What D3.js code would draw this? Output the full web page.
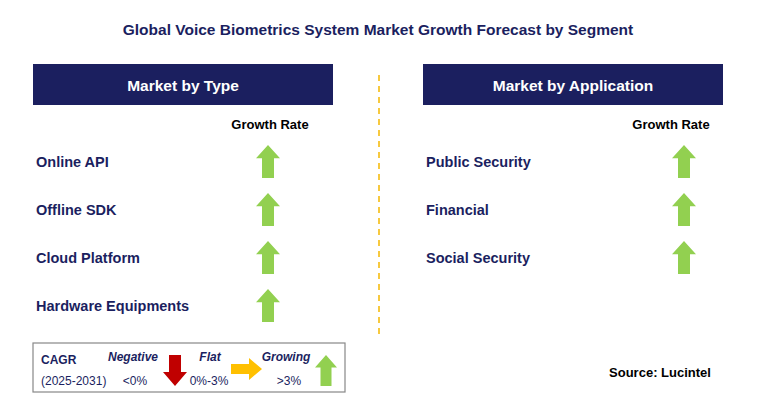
<!DOCTYPE html>
<html><head><meta charset="utf-8">
<script src="https://cdn.jsdelivr.net/npm/d3@7"></script>
<style>body{margin:0;background:#fff}text{font-family:Arial,"Liberation Sans",sans-serif}</style>
</head><body><svg id="c" width="757" height="417"></svg>
<script>
const title = "Global Voice Biometrics System Market Growth Forecast by Segment";
const typeSegments = ["Online API", "Offline SDK", "Cloud Platform", "Hardware Equipments"];
const typeGrowth = ["growing", "growing", "growing", "growing"];
const appSegments = ["Public Security", "Financial", "Social Security"];
const appGrowth = ["growing", "growing", "growing"];

const svg = d3.select("#c");
const navy = "#1b1f5f", green = "#92d050";

svg.append("text").attr("x", 378).attr("y", 35).attr("text-anchor", "middle")
  .attr("font-size", 15.5).attr("font-weight", "bold").attr("fill", "#1b1f5f").text(title);

svg.append("line").attr("x1", 379).attr("x2", 379).attr("y1", 75).attr("y2", 335)
  .attr("stroke", "#f5b800").attr("stroke-width", 1.5).attr("stroke-dasharray", "6,5");

function upArrow(g, cx, top, h, w, color) {
  const hw = w / 2, sw = w / 4, hh = h * 0.4;
  g.append("path").attr("fill", color)
    .attr("d", `M${cx},${top} L${cx+hw},${top+hh} L${cx+sw},${top+hh} L${cx+sw},${top+h} L${cx-sw},${top+h} L${cx-sw},${top+hh} L${cx-hw},${top+hh} Z`);
}

function panel(x0, header, names, growth, arrowX, labelX) {
  svg.append("rect").attr("x", x0).attr("y", 64).attr("width", 300).attr("height", 41).attr("fill", navy);
  svg.append("text").attr("x", x0 + 150).attr("y", 91).attr("text-anchor", "middle")
    .attr("font-size", 15.5).attr("font-weight", "bold").attr("fill", "#fff").text(header);
  svg.append("text").attr("x", labelX).attr("y", 129).attr("text-anchor", "middle")
    .attr("font-family", "Calibri,Carlito,'Liberation Sans',sans-serif")
    .attr("font-size", 13).attr("font-weight", "bold").attr("fill", "#000").text("Growth Rate");
  const y = d3.scalePoint().domain(names).range([162, 162 + 48 * (names.length - 1)]);
  const g = svg.append("g");
  names.forEach((n, i) => {
    g.append("text").attr("x", x0 + 3).attr("y", y(n) + 5).attr("font-size", 14.5)
      .attr("font-weight", "bold").attr("fill", navy).text(n);
    if (growth[i] === "growing") upArrow(g, arrowX, y(n) - 17, 33, 24, green);
  });
}
panel(33, "Market by Type", typeSegments, typeGrowth, 268, 270);
panel(423, "Market by Application", appSegments, appGrowth, 684, 671);

// legend
const lg = svg.append("g").attr("font-family", "Calibri,Carlito,'Liberation Sans',sans-serif");
lg.append("rect").attr("x", 33).attr("y", 343).attr("width", 312).attr("height", 49)
  .attr("fill", "#fff").attr("stroke", "#888").attr("stroke-width", 1.2);
const t = (x, y, s, opts = {}) => lg.append("text").attr("x", x).attr("y", y).attr("font-size", 12)
  .attr("fill", opts.fill || navy).attr("font-weight", opts.bold ? "bold" : null)
  .attr("font-style", opts.italic ? "italic" : null).attr("text-anchor", opts.anchor || "start").text(s);
t(41, 364, "CAGR", {bold: true});
t(41, 385, "(2025-2031)");
t(133, 361, "Negative", {bold: true, italic: true, anchor: "middle"});
t(135, 385, "<0%", {anchor: "middle"});
t(210, 361, "Flat", {bold: true, italic: true, anchor: "middle"});
t(209, 385, "0%-3%", {anchor: "middle"});
t(286, 361, "Growing", {bold: true, italic: true, anchor: "middle"});
t(289, 385, ">3%", {anchor: "middle"});
// red down arrow
lg.append("path").attr("fill", "#c00000")
  .attr("d", "M169,355 L181,355 L181,372 L187,372 L175,386 L163,372 L169,372 Z");
// yellow right arrow
lg.append("path").attr("fill", "#ffc000")
  .attr("d", "M231,364 L249,364 L249,358 L262,369 L249,380 L249,374 L231,374 Z");
upArrow(lg, 326, 355, 31, 22, green);

svg.append("text").attr("x", 660).attr("y", 377).attr("text-anchor", "middle")
  .attr("font-family", "Calibri,Carlito,'Liberation Sans',sans-serif")
  .attr("font-size", 13).attr("font-weight", "bold").attr("fill", "#000").text("Source: Lucintel");
</script></body></html>
